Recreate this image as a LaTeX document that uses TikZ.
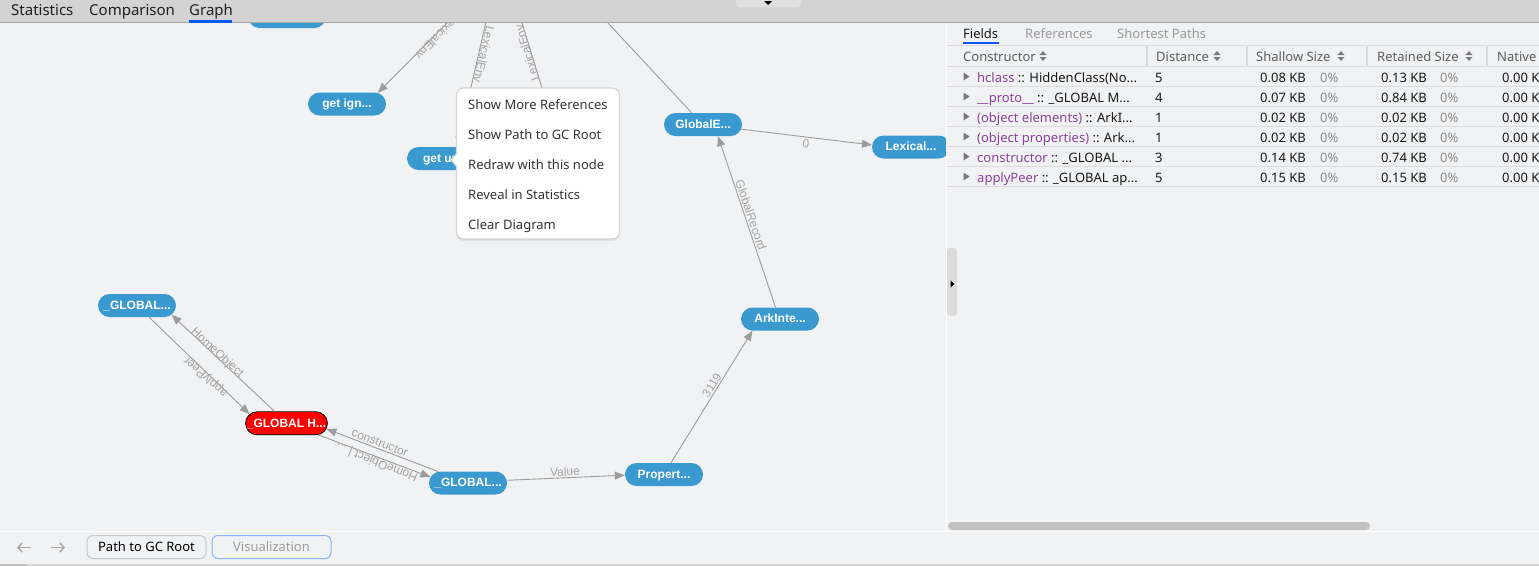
\documentclass[tikz,border=0pt]{standalone}
\usepackage{fontspec}
\setmainfont{Liberation Sans}
\newfontfamily\uifont{Noto Sans}
\usetikzlibrary{shapes.misc,arrows.meta,shadows}
\definecolor{bgc}{HTML}{F1F2F4}
\definecolor{topbarc}{HTML}{D3D3D3}
\definecolor{nodeblue}{HTML}{3A9AD0}
\definecolor{edgegray}{HTML}{9C9C9C}
\definecolor{lblgray}{HTML}{A3A3A3}
\definecolor{tabblue}{HTML}{0A59F7}
\definecolor{purp}{HTML}{8B449B}
\definecolor{rowline}{HTML}{DCDCDC}
\definecolor{hdrtext}{HTML}{5E5E5E}
\definecolor{pctgray}{HTML}{8C8C8C}
\definecolor{sortgray}{HTML}{7A7A7A}
\definecolor{navgray}{HTML}{AAAAAA}
\newcommand\sorticn[2]{%
  \fill[sortgray] (#1-3.5,#2-1) -- (#1+3.5,#2-1) -- (#1,#2-5) -- cycle;
  \fill[sortgray] (#1-3.5,#2+1) -- (#1+3.5,#2+1) -- (#1,#2+5) -- cycle;}
\newcommand\rowtri[1]{\fill[sortgray] (963.5,#1-4) -- (963.5,#1+4) -- (969.5,#1) -- cycle;}
\newcommand\fieldrow[7]{%
  \rowtri{#2}
  \node[cell] (#1n) at (977,#2+6) {\textcolor{purp}{#3}#4};
  \node[cell] (#1d) at (1155,#2+6) {#5};
  \node[cell] (#1s) at (1260,#2+6) {#6 KB};
  \node[pct] (#1sp) at (1320,#2+6) {0\%};
  \node[cell] (#1r) at (1381,#2+6) {#7 KB};
  \node[pct] (#1rp) at (1440,#2+6) {0\%};
  \node[cell] (#1v) at (1502,#2+6) {0.00 KB};
  \draw[rowline, line width=0.8pt] (947,#2+10) -- (1539,#2+10);}
\begin{document}
\begin{tikzpicture}[x=1pt,y=-1pt,
  gnode/.style={rounded rectangle, fill=nodeblue, text=white, font=\fontsize{12}{12}\selectfont\bfseries, minimum width=78pt, minimum height=23pt, inner sep=0pt, text height=9pt, text depth=1.5pt},
  rnode/.style={gnode, fill=red, draw=black, line width=0.8pt},
  edge/.style={draw=edgegray, line width=0.9pt},
  arr/.style={edge, -{Triangle[length=10pt,width=8pt]}},
  elabel/.style={text=lblgray, font=\fontsize{12}{12}\selectfont, inner sep=0pt, text height=8.6pt, text depth=0pt},
  ui/.style={font=\uifont\fontsize{13}{13}\selectfont, inner sep=0pt, anchor=base west},
  tab/.style={font=\uifont\fontsize{15}{15}\selectfont, inner sep=0pt, anchor=base west, text=black!88},
  menuitem/.style={ui, text=black!80},
  hdr/.style={ui, text=hdrtext},
  cell/.style={ui, text=black!90},
  pct/.style={ui, text=pctgray},
  btn/.style={rounded corners=6pt, minimum width=119pt, minimum height=23pt, inner sep=0pt, font=\uifont\fontsize{13}{13}\selectfont, line width=1pt},
]
\useasboundingbox (0,0) rectangle (1539,566);
\clip (0,0) rectangle (1539,566);
\fill[bgc] (0,0) rectangle (1539,566);

% ---------------- graph nodes
\node[gnode] (top) at (287,16.5) {};
\node[gnode] (ign) at (347,104) {get ign...};
\node[gnode] (gun) at (446,158.5) {get un...};
\node[gnode] (glob) at (703,124.5) {GlobalE...};
\node[gnode] (lex) at (911,147) {Lexical...};
\node[gnode] (ark) at (780,319) {ArkInte...};
\node[gnode] (prop) at (664,474.5) {Propert...};
\node[gnode] (glb) at (468,483) {\_GLOBAL...};
\node[gnode] (gll) at (137,305.5) {\_GLOBAL...};
\node[rnode] (red) at (286.5,423.3) {\_GLOBAL H...};

\coordinate (c1) at (470,0);
\coordinate (c2) at (491,0);
\coordinate (c3) at (515,0);
\coordinate (c3e) at (559.5,145);
\coordinate (c4) at (586.5,0);

% ---------------- edges
\draw[arr] (c1) -- (ign.20);
\draw[arr] (c2) -- (gun.46);
\draw[edge] (c3) -- (c3e);
\draw[edge] (glob.134) -- (c4);
\draw[arr] (glob.353) -- (lex.177);
\draw[arr] (ark.111) -- (glob.322);
\draw[arr] (prop.59) -- (ark.203);
\draw[arr] (glb.4) -- (prop.181);
\draw[arr] (glb.159) -- (red.352);
\draw[arr] (red.340) -- (glb.171);
\draw[arr] (red.135) -- (gll.345);
\draw[arr] (gll.316) -- (red.166);

% ---------------- edge labels
\node[elabel, rotate=225.4] (l1) at (438,37) {LexicalEnv};
\node[elabel, rotate=-103] (l2) at (484,54.5) {LexicalEnv};
\node[elabel, rotate=107.1] (l3) at (527,53) {LexicalEnv};
\node[elabel, rotate=-7] (l4) at (806,144) {0};
\node[elabel, rotate=-71.4] (l5) at (751,215) {GlobalRecord};
\node[elabel, rotate=57.6] (l6) at (711.7,385) {3119};
\node[elabel, rotate=2.3] (l7) at (565,471.7) {Value};
\node[elabel, rotate=-21] (l8) at (380,442.5) {constructor};
\node[elabel, rotate=158.5] (l9) at (376.5,463) {HomeObject | ...};
\node[elabel, rotate=-42.5] (l10) at (218,352) {HomeObject};
\node[elabel, rotate=138.5] (l11) at (205,377.5) {applyPeer};

% ---------------- context menu
\node[draw=black!17, fill=white, rounded corners=7pt, minimum width=163pt, minimum height=151pt, line width=1.2pt, drop shadow={opacity=0.15, shadow xshift=0pt, shadow yshift=-2pt}] (menu) at (538,163.5) {};
\fill[white] (458,153) -- (451,160) -- (458,167) -- cycle;
\draw[black!17, line width=1.1pt] (457,153) -- (451,160) -- (457,167);
\node[menuitem] (mi1) at (468,109.3) {Show More References};
\node[menuitem] (mi2) at (468,139.3) {Show Path to GC Root};
\node[menuitem] (mi3) at (468,169.3) {Redraw with this node};
\node[menuitem] (mi4) at (468,199.3) {Reveal in Statistics};
\node[menuitem] (mi5) at (468,229.3) {Clear Diagram};

% ---------------- right panel
\fill[bgc] (947,23) rectangle (1539,531);
\draw[white, line width=1.2pt] (946.6,23) -- (946.6,531);
\fill[black!14, rounded corners=3pt] (947,248) rectangle (957,316);
\fill[black] (950.5,280.5) -- (950.5,287.5) -- (954.5,284) -- cycle;

\node[ui, text=black!90] (tf) at (963,38.3) {Fields};
\node[ui, text=black!40] (tr) at (1025,38.3) {References};
\node[ui, text=black!40] (ts) at (1117,38.3) {Shortest Paths};
\fill[tabblue] (963,41.5) rectangle (999,44);
\draw[rowline, line width=0.8pt] (947,45.5) -- (1539,45.5);

\node[hdr] (h1) at (963,61) {Constructor};
\node[hdr] (h2) at (1156,61) {Distance};
\node[hdr] (h3) at (1256,61) {Shallow Size};
\node[hdr] (h4) at (1377,61) {Retained Size};
\node[hdr] (h5) at (1497,61) {Native};
\sorticn{1043}{56}
\sorticn{1217}{56}
\sorticn{1341}{56}
\sorticn{1469}{56}
\foreach \sx in {1147,1247,1367,1487} {\fill[black!15] (\sx-1.2,46) rectangle (\sx+1.2,66);}
\draw[rowline, line width=0.8pt] (947,66.5) -- (1539,66.5);

\fieldrow{ra}{76.5}{hclass}{ :: HiddenClass(No...}{5}{0.08}{0.13}
\fieldrow{rb}{96.5}{\_\_proto\_\_}{ :: \_GLOBAL M...}{4}{0.07}{0.84}
\fieldrow{rc}{116.5}{(object elements)}{ :: ArkI...}{1}{0.02}{0.02}
\fieldrow{rd}{136.5}{(object properties)}{ :: Ark...}{1}{0.02}{0.02}
\fieldrow{re}{156.5}{constructor}{ :: \_GLOBAL ...}{3}{0.14}{0.74}
\fieldrow{rf}{176.5}{applyPeer}{ :: \_GLOBAL ap...}{5}{0.15}{0.15}

\fill[black!24, rounded corners=4pt] (948,522) rectangle (1370,530);

% ---------------- top bar
\fill[topbarc] (0,0) rectangle (1539,22);
\draw[black!34, line width=1pt] (0,22.5) -- (1539,22.5);
\fill[black!12, rounded corners=4pt] (736,-6) rectangle (801,7.3);
\fill[black] (764,1) -- (772,1) -- (768,5) -- cycle;
\node[tab] (tstat) at (11,15.7) {Statistics};
\node[tab] (tcomp) at (89,15.7) {Comparison};
\node[tab] (tgraph) at (189,15.7) {Graph};
\fill[tabblue] (189,19.5) rectangle (232,22.5);

% ---------------- bottom bar
\fill[bgc] (0,531) rectangle (1539,566);
\draw[white, line width=1pt] (0,531) -- (1539,531);
\fill[black!16] (0,563.5) rectangle (1539,566);
\fill[black!26] (0,563.5) rectangle (27,566);
\coordinate (b1) at (31,547.5);
\coordinate (b2) at (17,547.5);
\coordinate (b3) at (51,547.5);
\coordinate (b4) at (65,547.5);
\draw[navgray, line width=1.6pt, -{Straight Barb[length=4pt,width=9pt]}] (b1) -- (b2);
\draw[navgray, line width=1.6pt, -{Straight Barb[length=4pt,width=9pt]}] (b3) -- (b4);
\node[btn, draw=black!22, text=black] (bpath) at (146.5,547) {Path to GC Root};
\node[btn, draw={rgb,255:red,138;green,180;blue,248}, text=black!38] (bvis) at (271.5,547) {Visualization};
\end{tikzpicture}
\end{document}
